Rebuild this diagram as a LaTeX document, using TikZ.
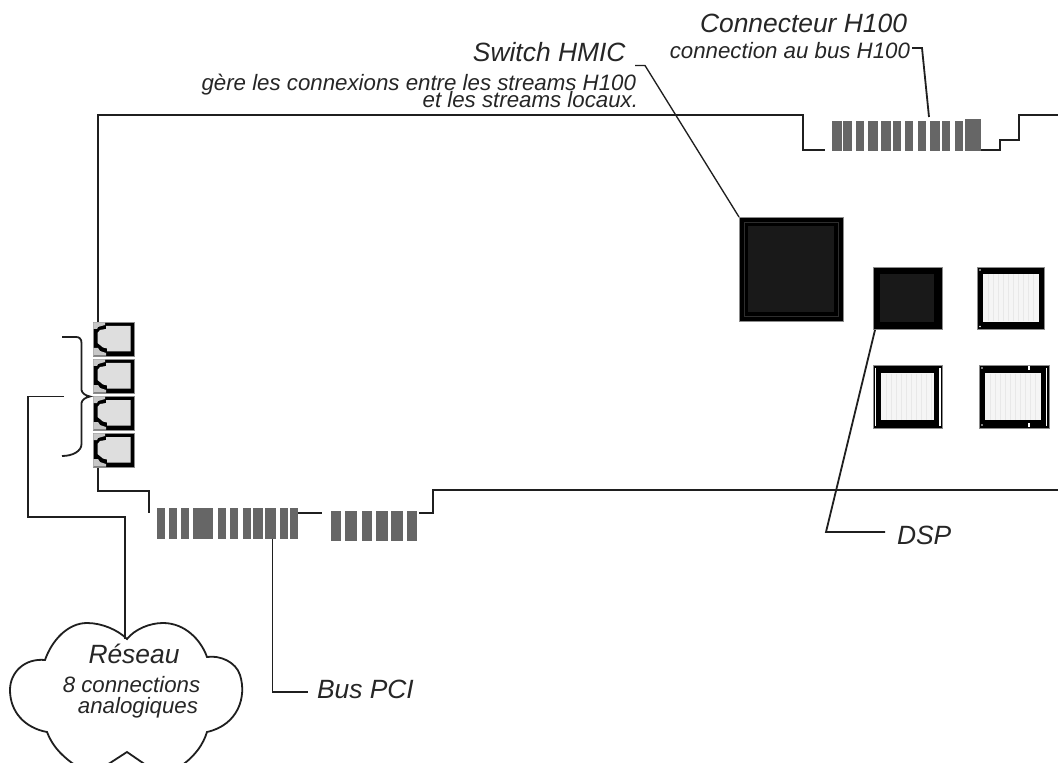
\documentclass[tikz,border=0pt]{standalone}
\usepackage{fontspec}
\setmainfont{Liberation Sans}
\begin{document}
\begin{tikzpicture}[x=0.75pt,y=-0.75pt,
  wire/.style={draw=black!88,line width=1.35pt,line join=miter},
  thinwire/.style={draw=black!88,line width=1pt},
  lbl/.style={text=black!85,inner sep=0pt,outer sep=0pt},
  big/.style={lbl,font=\itshape\fontsize{19.8}{22}\selectfont},
  small/.style={lbl,font=\itshape\fontsize{16.7}{12.5}\selectfont},
  pin/.style={fill=black!60,draw=none},
  chipdark/.style={draw=black!45,line width=0.4pt,fill=black,inner sep=0pt,outer sep=0pt},
  core/.style={draw=none,fill=black!90,inner sep=0pt,outer sep=0pt},
  corelight/.style={draw=none,fill=black!4,inner sep=0pt,outer sep=0pt},
  stripe/.style={draw=black!9,line width=0.4pt}]
\useasboundingbox (0,0) rectangle (1058,763);
\fill[white] (0,0) rectangle (1058,763);
\clip (0,0) rectangle (1058,763);
% named points of the board outline
\coordinate (tl) at (98,115);
\coordinate (notchA) at (803,115);
\coordinate (notchB) at (803,150);
\coordinate (notchC) at (825,150);
\coordinate (h100end) at (981,150);
\coordinate (stepA) at (1000,150);
\coordinate (stepB) at (1000,140);
\coordinate (stepC) at (1019,140);
\coordinate (stepD) at (1019,115);
\coordinate (rt) at (1058,115);
\coordinate (portTop) at (98,322);
\coordinate (portBot) at (98,467);
\coordinate (bl) at (98,491);
\coordinate (pciA) at (149,491);
\coordinate (pciB) at (149,513);
\coordinate (pciC) at (298,513);
\coordinate (pciD) at (322,513);
\coordinate (pciE) at (419,513);
\coordinate (pciF) at (433,513);
\coordinate (pciG) at (433,490);
\coordinate (rb) at (1058,490);
\draw[wire] (portTop) -- (tl) -- (notchA) -- (notchB) -- (notchC);
\draw[wire] (h100end) -- (stepA) -- (stepB) -- (stepC) -- (stepD) -- (rt);
\draw[wire] (portBot) -- (bl) -- (pciA) -- (pciB);
\draw[wire] (pciC) -- (pciD);
\draw[wire] (pciE) -- (pciF) -- (pciG) -- (rb);
% H100 pins
\foreach \a/\b in {155/185,190/215,228/252,265/295,302/332,339/363,376/400,413/437,450/480,487/511,524/548}
  \fill[pin] ({780+\a/3},121) rectangle ({780+\b/3},151.5);
\fill[pin] (965,119) rectangle (981,151.5);
% PCI pins
\foreach \a/\b in {80/104,116/140,153/178,190/250,264/288,301/325,338/362,369/398,406/437,449/473,480/503}
  \fill[pin] ({130+\a/3},508) rectangle ({130+\b/3},539);
\foreach \a/\b in {602/633,646/682,695/725,738/775,782/818,830/862}
  \fill[pin] ({130+\a/3},511) rectangle ({130+\b/3},541);
% telephone ports
\foreach \n/\y in {1/322,2/359,3/396,4/433}{
  \fill[black,draw=black!45,line width=0.4pt] (93,\y) rectangle (134,\y+34);
  \fill[black!13] (106,\y+4) -- (130.5,\y+4) -- (130.5,\y+29.5) -- (107,\y+29.5) -- (107,\y+26.5) -- (103,\y+25.5) -- (97.5,\y+21) -- (97.5,\y+11) -- (100,\y+8) -- (106,\y+7) -- cycle;
  \fill[black!22] (93.4,\y+.4) -- (105,\y+.4) -- (105,\y+3) -- (98,\y+5) -- (97,\y+7) -- (93.4,\y+7) -- cycle;
  \fill[black!22] (93.4,\y+33.6) -- (106,\y+33.6) -- (106,\y+31) -- (100,\y+29) -- (98,\y+26) -- (93.4,\y+26) -- cycle;
}
% chips
\node[chipdark,minimum width=78pt,minimum height=78pt] (hmic) at (791,269) {};
\draw[black!82,line width=0.5pt] (744,222) rectangle (838,316);
\node[core,minimum width=64.5pt,minimum height=64.5pt] at (791,269) {};
\node[chipdark,minimum width=51.75pt,minimum height=46.5pt] (dsp) at (907.5,298) {};
\node[core,minimum width=40.5pt,minimum height=36pt] at (907,298) {};
\node[chipdark,minimum width=50.25pt,minimum height=46.5pt] (chipB) at (1010.5,298) {};
\node[corelight,minimum width=42pt,minimum height=36pt] at (1011,298) {};
\foreach \x in {988,993,...,1036}\draw[stripe] (\x,274.5) -- (\x,321.5);
\node[chipdark,minimum width=51.75pt,minimum height=47.25pt] (chipC) at (907.5,396.5) {};
\node[corelight,minimum width=39.75pt,minimum height=35.25pt] at (907.5,396.5) {};
\foreach \x in {886,891,...,931}\draw[stripe] (\x,373.5) -- (\x,419.5);
\node[chipdark,minimum width=52.5pt,minimum height=47.25pt] (chipD) at (1014,396.5) {};
\node[corelight,minimum width=42pt,minimum height=35.25pt] at (1013,396.5) {};
\foreach \x in {990,995,...,1037}\draw[stripe] (\x,373.5) -- (\x,419.5);
\foreach \x in {875.5,940}\fill[white] (\x-.6,368) rectangle (\x+.6,426);
\fill[white] (1045.7,368) rectangle (1046.9,426);
\fill[white] (1028.3,366.5) rectangle (1030,370.5);
\fill[white] (1028.3,423) rectangle (1030,427);
\foreach \p in {(980,270),(980,326.5),(982,368),(982,425)}\fill[white] \p circle (0.9);
% labels
\node[big,anchor=base east] (switch) at (625.5,62) {Switch HMIC};
\node[small,anchor=base east] (gere) at (636,91) {gère les connexions entre les streams H100};
\node[small,anchor=base east] (locaux) at (638,107.5) {et les streams locaux.};
\node[big,anchor=base east] (conn) at (907,33) {Connecteur H100};
\node[small,anchor=base east] (bus) at (910,59) {connection au bus H100};
\node[big,anchor=base west] (dsplbl) at (897,544) {DSP};
\node[big,anchor=base west] (pcilbl) at (317,698) {Bus PCI};
% callouts
\coordinate (hA) at (635,65.5);
\coordinate (hB) at (645,65.5);
\coordinate (cA) at (912,48);
\coordinate (cB) at (922,48);
\coordinate (cC) at (929,117);
\coordinate (dA) at (875,330);
\coordinate (dB) at (826,532);
\coordinate (dC) at (885,532);
\coordinate (bA) at (272.5,539);
\coordinate (bB) at (272.5,692);
\coordinate (bC) at (308,692);
\draw[thinwire] (hA) -- (hB) -- (hmic.north west);
\draw[wire] (cA) -- (cB) -- (cC);
\draw[wire] (dA) -- (dB) -- (dC);
\draw[wire] (bA) -- (bB) -- (bC);
% brace
\coordinate (brA) at (62,337);
\coordinate (brTip) at (90,396.5);
\coordinate (brB) at (62,456);
\draw[wire] (brA) -- (76,337) .. controls (79.5,337) and (81.5,339) .. (81.5,343) -- (81.5,390)
  .. controls (82,393) and (85,395.5) .. (brTip) .. controls (85,397.5) and (82,400) .. (81.5,403)
  -- (81.5,444) .. controls (81.5,451) and (73,456) .. (brB);
% network cloud
\coordinate (cloudTop) at (127,639);
\path[wire,fill=white] (cloudTop)
  .. controls (135,629) and (150,623) .. (163,623)
  .. controls (185,623) and (201,640) .. (207,657)
  .. controls (220,655) and (236,662) .. (240,675)
  .. controls (247,697) and (238,725) .. (207,732)
  .. controls (203,745) and (195,755) .. (185,763)
  .. controls (170,775) and (155,772) .. (143,763)
  -- (127,752) -- (110,763)
  .. controls (95,772) and (85,772) .. (72,763)
  .. controls (60,754) and (52,745) .. (47,732)
  .. controls (25,728) and (10,712) .. (10,690)
  .. controls (10,672) and (25,658) .. (45,660)
  .. controls (52,640) and (68,623) .. (87,623)
  .. controls (102,623) and (118,630) .. cycle;
\node[big,anchor=base] (reseau) at (134,663) {Réseau};
\node[small,anchor=base] (eight) at (131.5,692.5) {8 connections};
\node[small,anchor=base] (ana) at (138,713) {analogiques};
% network wire
\coordinate (nA) at (64,396.5);
\coordinate (nB) at (28,396.5);
\coordinate (nC) at (28,517);
\coordinate (nD) at (125,517);
\draw[wire] (nA) -- (nB) -- (nC) -- (nD) -- (nD |- cloudTop);
\end{tikzpicture}
\end{document}
